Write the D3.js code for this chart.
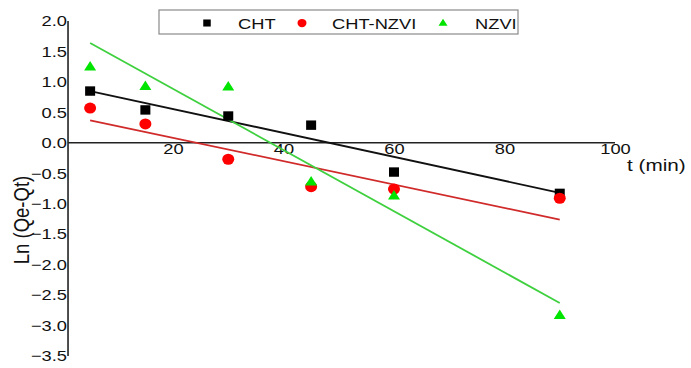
<!DOCTYPE html>
<html>
<head>
<meta charset="utf-8">
<script src="https://cdn.jsdelivr.net/npm/d3@7"></script>
<style>
  html, body { margin: 0; padding: 0; background: #fff; }
  svg { display: block; font-family: "Liberation Sans", Arial, sans-serif; }
</style>
</head>
<body>
<svg id="chart" width="691" height="368"></svg>
<script>
// Pseudo-first-order kinetics: ln(Qe - Qt) versus contact time
const times = [5, 15, 30, 45, 60, 90];
const seriesNames = ["CHT", "CHT-NZVI", "NZVI"];
const chtValues = [0.85, 0.54, 0.44, 0.29, -0.48, -0.83];
const chtNzviValues = [0.57, 0.31, -0.27, -0.72, -0.76, -0.91];
const nzviValues = [1.25, 0.93, 0.92, -0.64, -0.87, -2.83];
// Linear fit lines, value at first and last time
const fitTimes = [5, 90];
const chtFit = [0.85, -0.82];
const chtNzviFit = [0.37, -1.26];
const nzviFit = [1.64, -2.63];
const xTicks = [20, 40, 60, 80, 100];
const yTicks = [-3.5, -3.0, -2.5, -2.0, -1.5, -1.0, -0.5, 0.0, 0.5, 1.0, 1.5, 2.0];

const SX = 1.22; // horizontal stretch of glyphs
const svg = d3.select("#chart");

const x = d3.scaleLinear().domain([0, 100]).range([62.5, 615]);
const y = d3.scaleLinear().domain([-3.5, 2.0]).range([356, 21]);
const yAxisAt = 1; // y axis crosses at t = 1

const series = [
  { name: seriesNames[0], values: chtValues, fit: chtFit, marker: "square", fill: "#000000", line: "#111111" },
  { name: seriesNames[1], values: chtNzviValues, fit: chtNzviFit, marker: "circle", fill: "#ff0000", line: "#d02a2a" },
  { name: seriesNames[2], values: nzviValues, fit: nzviFit, marker: "triangle", fill: "#00e400", line: "#3fd03f" }
];

function stretchText(sel) {
  sel.each(function () {
    const t = d3.select(this);
    const tx = +t.attr("x") || 0;
    t.attr("x", tx / SX).attr("transform", `scale(${SX},1)`);
  });
}

// x axis along y = 0
const xAxis = svg.append("g")
  .attr("transform", `translate(0,${y(0)})`)
  .call(d3.axisBottom(x).tickValues(xTicks).tickSize(0).tickPadding(1).tickFormat(d3.format("d")));
xAxis.select(".domain").attr("d", `M${x(yAxisAt)},0H${x(100)}`).attr("stroke", "#222").attr("stroke-width", 1.6);
xAxis.selectAll("text").attr("font-size", 15).attr("fill", "#111").attr("font-family", "Liberation Sans, Arial, sans-serif");
stretchText(xAxis.selectAll("text"));

// y axis
const yAxis = svg.append("g")
  .attr("transform", `translate(${x(yAxisAt)},0)`)
  .call(d3.axisLeft(y).tickValues(yTicks).tickSize(0).tickPadding(1).tickFormat(d3.format(".1f")));
yAxis.select(".domain").attr("d", `M0,${y(2.0)}V${y(-3.5)}`).attr("stroke", "#222").attr("stroke-width", 1.6);
yAxis.selectAll("text").attr("font-size", 15).attr("fill", "#111").attr("font-family", "Liberation Sans, Arial, sans-serif");
stretchText(yAxis.selectAll("text"));

// axis titles
svg.append("text")
  .attr("transform", `translate(627,171) scale(${SX},1)`)
  .attr("font-size", 17).attr("fill", "#111")
  .text("t (min)");

svg.append("text")
  .attr("transform", `translate(29,220) rotate(-90)`)
  .attr("text-anchor", "middle")
  .attr("font-size", 18.5).attr("fill", "#111")
  .attr("textLength", null)
  .text("Ln (Qe-Qt)")
  .attr("transform", `translate(29,220) scale(${SX},1) rotate(-90)`)
  .attr("x", 0);

// fit lines
const line = d3.line().x(d => x(d[0])).y(d => y(d[1]));
series.forEach(s => {
  svg.append("path")
    .datum(fitTimes.map((t, i) => [t, s.fit[i]]))
    .attr("d", line)
    .attr("fill", "none")
    .attr("stroke", s.line)
    .attr("stroke-width", 1.8);
});

// marker drawing
function drawMarker(g, type, cx, cy, size, color) {
  if (type === "square") {
    g.append("rect").attr("x", cx - size * 0.5).attr("y", cy - size * 0.47)
      .attr("width", size).attr("height", size * 0.94).attr("fill", color);
  } else if (type === "circle") {
    g.append("ellipse").attr("cx", cx).attr("cy", cy)
      .attr("rx", size * 0.6).attr("ry", size * 0.55).attr("fill", color);
  } else {
    const w = size * 1.2, h = size * 0.95;
    g.append("path")
      .attr("d", `M${cx},${cy - h * 0.6}L${cx + w / 2},${cy + h * 0.4}L${cx - w / 2},${cy + h * 0.4}Z`)
      .attr("fill", color);
  }
}

series.forEach(s => {
  const g = svg.append("g");
  s.values.forEach((v, i) => drawMarker(g, s.marker, x(times[i]), y(v), 10, s.fill));
});

// legend
const legend = svg.append("g").attr("transform", "translate(159,10)");
legend.append("rect").attr("x", 0).attr("y", 0).attr("width", 359).attr("height", 24)
  .attr("fill", "#fff").attr("stroke", "#8a8a8a").attr("stroke-width", 1.2);
const legendMarkX = [48, 143, 284];
const legendTextX = [79, 173, 316];
series.forEach((s, i) => {
  drawMarker(legend, s.marker, legendMarkX[i], 13, 7.5, s.fill);
  legend.append("text")
    .attr("transform", `translate(${legendTextX[i]},18.5) scale(${SX},1)`)
    .attr("font-size", 15).attr("fill", "#111")
    .text(s.name);
});
</script>
</body>
</html>
